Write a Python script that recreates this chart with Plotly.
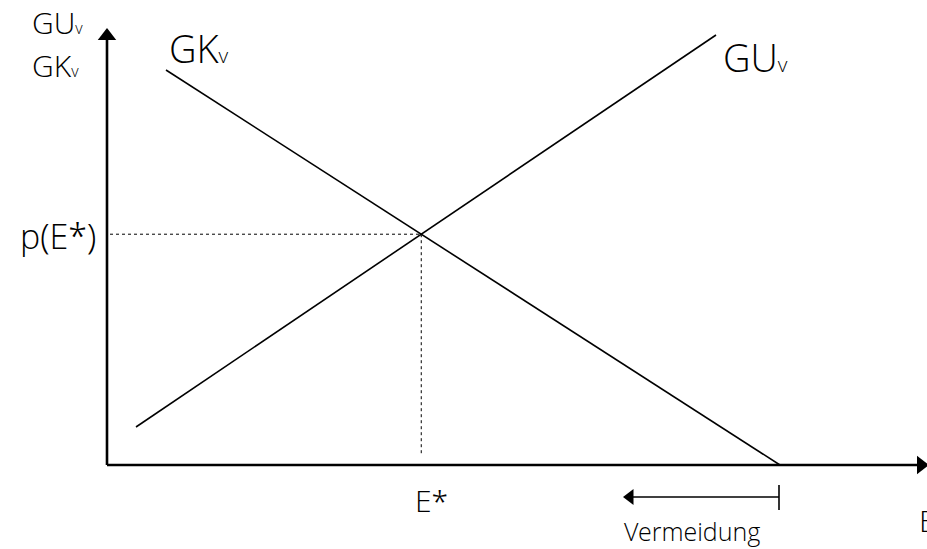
import plotly.graph_objects as go

# Data (chart units: origin at axis crossing)
gk_x = [59, 673]
gk_y = [395, 0]
gu_x = [29, 609]
gu_y = [38, 430]
y_axis_top = 437
x_axis_right = 822
vermeidung_from = 672
vermeidung_to = 516
vermeidung_y = -32

# intersection of the two curves
m1 = (gk_y[1] - gk_y[0]) / (gk_x[1] - gk_x[0])
m2 = (gu_y[1] - gu_y[0]) / (gu_x[1] - gu_x[0])
b1 = gk_y[0] - m1 * gk_x[0]
b2 = gu_y[0] - m2 * gu_x[0]
e_star = (b2 - b1) / (m1 - m2)
p_star = m1 * e_star + b1

FONT = "Open Sans Light, Lato Light, Noto Sans Light, Open Sans"
BLACK = "black"
fig = go.Figure()


def line(xs, ys, width=1.6, dash="solid"):
    fig.add_trace(go.Scatter(x=xs, y=ys, mode="lines", hoverinfo="skip",
                             line=dict(color=BLACK, width=width, dash=dash)))


line(gk_x, gk_y)
line(gu_x, gu_y)
line([3, e_star], [p_star, p_star], width=1, dash="dot")
line([e_star, e_star], [p_star, 10], width=1, dash="dot")
line([0, 0], [0, y_axis_top - 6], width=2.6)
line([0, x_axis_right - 6], [0, 0], width=2.6)
line([vermeidung_from, vermeidung_to + 6], [vermeidung_y, vermeidung_y], width=1.6)
line([vermeidung_from, vermeidung_from], [vermeidung_y + 12, vermeidung_y - 13], width=1.6)

# arrowheads
fig.add_trace(go.Scatter(x=[0], y=[y_axis_top - 8], mode="markers", hoverinfo="skip",
                         marker=dict(symbol="triangle-up", size=16, color=BLACK)))
fig.add_trace(go.Scatter(x=[x_axis_right - 8], y=[0], mode="markers", hoverinfo="skip",
                         marker=dict(symbol="triangle-right", size=16, color=BLACK)))
fig.add_trace(go.Scatter(x=[vermeidung_to + 7], y=[vermeidung_y], mode="markers", hoverinfo="skip",
                         marker=dict(symbol="triangle-left", size=14, color=BLACK)))


def sub(base, size):
    return f"{base}<span style='font-size:{round(size*0.55)}px'>v</span>"


annotations = []
labels = [
    (sub("GU", 30), -77, 443, 30, "left"),
    (sub("GK", 30), -77, 400, 30, "left"),
    (sub("GK", 38), 60, 417, 38, "left"),
    (sub("GU", 38), 614, 408, 38, "left"),
    ("p(E*)", -89, 229, 34, "left"),
    ("E*", 324, -35, 30, "center"),
    ("E", 810, -55, 30, "left"),
    ("Vermeidung", 585, -66, 25, "center"),
]
for text, x, y, size, anchor in labels:
    annotations.append(dict(x=x, y=y, text=text, showarrow=False,
                            font=dict(family=FONT, size=size, color=BLACK, weight=300),
                            xanchor=anchor, yanchor="middle"))

fig.update_layout(
    width=927, height=549,
    margin=dict(l=0, r=0, t=0, b=0),
    paper_bgcolor="white", plot_bgcolor="white",
    showlegend=False,
    xaxis=dict(range=[-107, 820], visible=False, fixedrange=True),
    yaxis=dict(range=[-84, 465], visible=False, fixedrange=True),
    annotations=annotations,
)
fig.write_html("out.html", config={"displayModeBar": False},
               post_script="document.body.style.margin='0';document.body.style.overflow='hidden';")
